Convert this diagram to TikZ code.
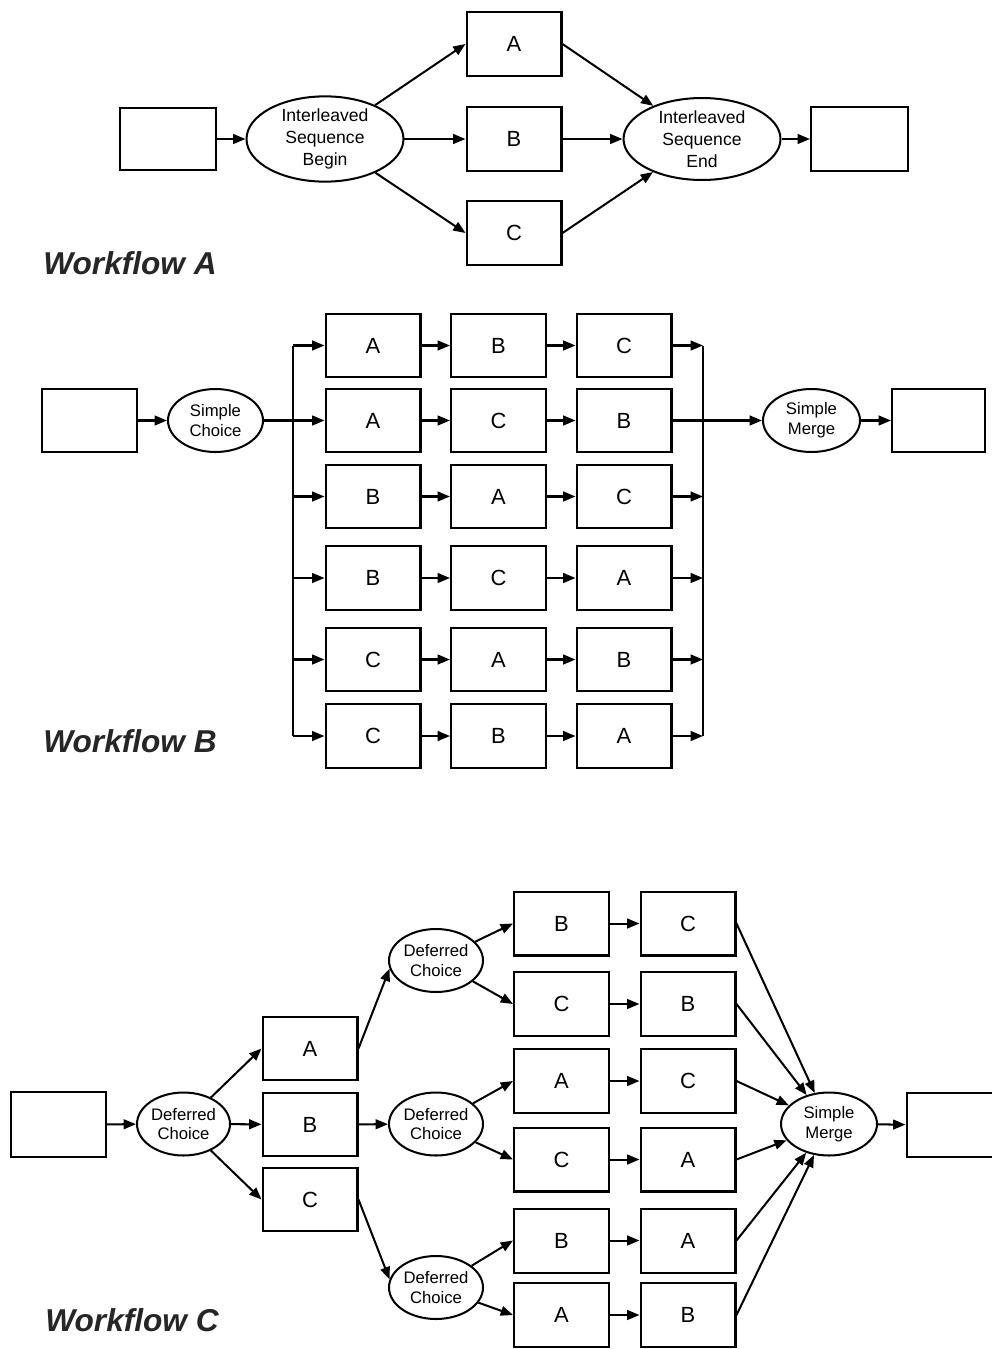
\documentclass[tikz,border=0pt]{standalone}
\usepackage{fontspec}
\setmainfont{Liberation Sans}
\usetikzlibrary{shapes.geometric,arrows.meta,calc}
\tikzset{
  lw/.style={line width=1.15pt},
  arr/.style={lw,-{Triangle[length=7pt,width=5.5pt]}},
  plain/.style={lw},
  box/.style={draw,lw,rectangle,inner sep=0pt,minimum width=1.9cm,minimum height=1.27cm,font=\fontsize{12.5}{14}\selectfont},
  oval/.style={draw,lw,ellipse,inner sep=0pt,align=center,minimum width=1.88cm,minimum height=1.26cm,font=\fontsize{9.5}{11.3}\selectfont},
  bigoval/.style={oval,minimum width=3.14cm,minimum height=1.64cm,font=\fontsize{10}{12.5}\selectfont},
  wflabel/.style={anchor=west,inner sep=0pt,font=\fontsize{18}{20}\selectfont\bfseries\itshape,text=black!85}
}
\begin{document}
\begin{tikzpicture}[x=0.02cm,y=-0.02cm]
\useasboundingbox (0,0) rectangle (991,1349);
% ---------------- Workflow A ----------------
\node[box,minimum width=1.92cm,minimum height=1.24cm] (a0) at (168,139) {};
\node[bigoval] (aBeg) at (325,139) {Interleaved\\Sequence\\Begin};
\node[box] (aA) at (514,44) {A};
\node[box] (aB) at (514,139) {B};
\node[box] (aC) at (514,233) {C};
\node[bigoval] (aEnd) at (702,139) {Interleaved\\Sequence\\End};
\node[box,minimum width=1.94cm] (a1) at (859.5,139) {};
\node[wflabel] (labA) at (43,263) {Workflow A};
\draw[arr] (a0) -- (aBeg);
\draw[arr] (aBeg) -- (aA.west);
\draw[arr] (aBeg) -- (aB);
\draw[arr] (aBeg) -- (aC.west);
\draw[arr] (aA.east) -- (aEnd);
\draw[arr] (aB) -- (aEnd);
\draw[arr] (aC.east) -- (aEnd);
\draw[arr] (aEnd) -- (a1);
% ---------------- Workflow B ----------------
\node[box] (b0) at (89.5,420.5) {};
\node[oval,minimum width=1.9cm] (bSC) at (215.5,420.5) {Simple\\Choice};
\node[oval,minimum width=1.94cm] (bSM) at (811.5,420.5) {Simple\\Merge};
\node[box,minimum width=1.86cm] (b1) at (938.5,420.5) {};
\foreach \r/\y/\p/\q/\s in {1/345.5/A/B/C, 2/420.5/A/C/B, 3/496.5/B/A/C, 4/578/B/C/A, 5/659.5/C/A/B, 6/736/C/B/A}{
  \node[box] (b\r1) at (373,\y) {\p};
  \node[box] (b\r2) at (498.5,\y) {\q};
  \node[box] (b\r3) at (624,\y) {\s};
  \draw[arr] (b\r1) -- (b\r2);
  \draw[arr] (b\r2) -- (b\r3);
}
\coordinate (Ltop) at (293,345.5);
\coordinate (Lbot) at (293,736);
\coordinate (Rtop) at (703,345.5);
\coordinate (Rbot) at (703,736);
\draw[plain] (Ltop) -- (Lbot);
\draw[plain] (Rtop) -- (Rbot);
\draw[arr] (b0) -- (bSC);
\draw[arr] (bSC) -- (b21);
\foreach \r in {1,3,4,5,6}{
  \draw[arr] (b\r1.west -| Ltop) -- (b\r1.west);
  \draw[arr] (b\r3.east) -- (b\r3.east -| Rtop);
}
\draw[arr] (b23) -- (bSM);
\draw[arr] (bSM) -- (b1);
\node[wflabel] (labB) at (43,741) {Workflow B};
% ---------------- Workflow C ----------------
\node[box,minimum height=1.3cm] (c0) at (58.5,1124.5) {};
\node[oval,minimum width=1.86cm] (cDC1) at (183.5,1124) {Deferred\\Choice};
\node[box] (cA) at (310,1048.5) {A};
\node[box] (cB) at (310,1124.5) {B};
\node[box] (cC) at (310,1199.5) {C};
\node[oval,minimum width=1.88cm] (cDC2) at (436,960.5) {Deferred\\Choice};
\node[oval,minimum width=1.88cm] (cDC3) at (436,1124) {Deferred\\Choice};
\node[oval,minimum width=1.88cm] (cDC4) at (436,1287.5) {Deferred\\Choice};
\foreach \r/\y/\p/\q in {1/923.5/B/C, 2/1004/C/B, 3/1081/A/C, 4/1159.5/C/A, 5/1240.5/B/A, 6/1315/A/B}{
  \node[box,minimum height=1.28cm] (c\r1) at (561.5,\y) {\p};
  \node[box,minimum height=1.28cm] (c\r2) at (688,\y) {\q};
  \draw[arr] (c\r1) -- (c\r2);
}
\node[oval,minimum width=1.92cm] (cSM) at (829,1124) {Simple\\Merge};
\node[box,minimum height=1.28cm] (c1) at (954,1125) {};
\draw[arr] (c0) -- (cDC1);
\draw[arr] (cDC1) -- (cA.west);
\draw[arr] (cDC1) -- (cB);
\draw[arr] (cDC1) -- (cC.west);
\draw[arr] (cA.east) -- (cDC2.190);
\draw[arr] (cB) -- (cDC3);
\draw[arr] (cC.east) -- (cDC4.170);
\draw[arr] (cDC2) -- (c11.west);
\draw[arr] (cDC2) -- (c21.west);
\draw[arr] (cDC3) -- (c31.west);
\draw[arr] (cDC3) -- (c41.west);
\draw[arr] (cDC4) -- (c51.west);
\draw[arr] (cDC4) -- (c61.west);
\foreach \r in {1,...,6}{
  \draw[arr] (c\r2.east) -- (cSM);
}
\draw[arr] (cSM) -- (c1);
\node[wflabel] (labC) at (45,1320) {Workflow C};
\end{tikzpicture}
\end{document}
